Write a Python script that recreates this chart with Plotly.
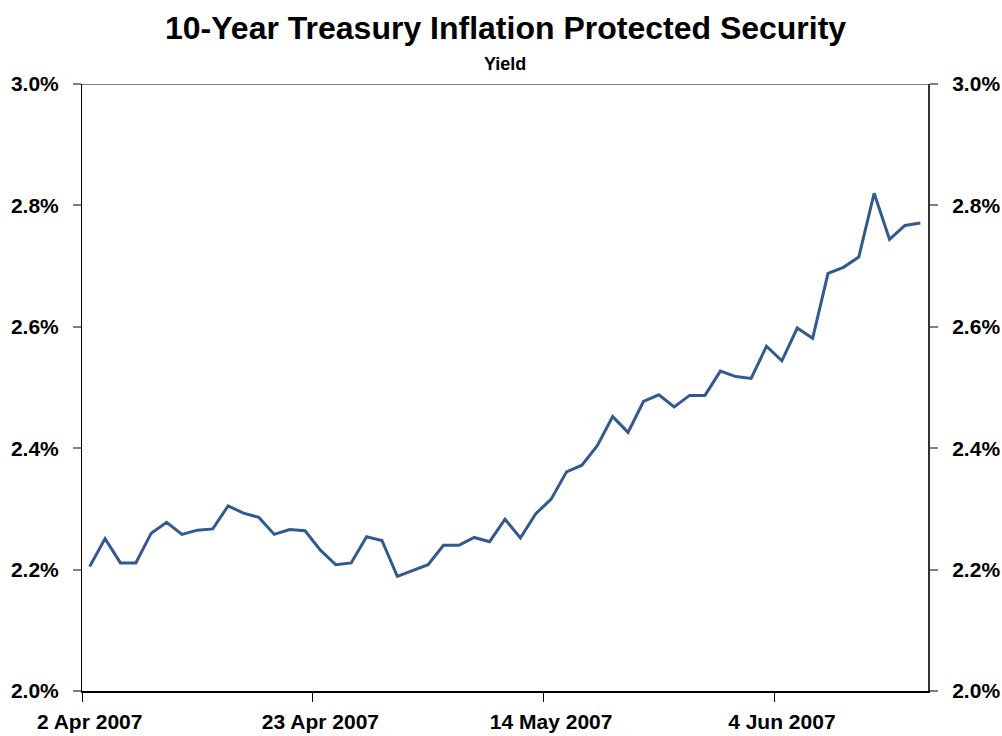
import pandas as pd
import plotly.graph_objects as go

# Trading days (weekdays) from 2 Apr 2007 to 15 Jun 2007
dates = pd.bdate_range("2007-04-02", periods=55)
date_labels = [d.strftime("%Y-%m-%d") for d in dates]

# 10-Year TIPS yield (%)
yields = [
    2.205, 2.251, 2.211, 2.211, 2.260, 2.278, 2.258, 2.265, 2.267, 2.305,
    2.293, 2.286, 2.258, 2.266, 2.264, 2.232, 2.208, 2.211, 2.254, 2.248,
    2.189, 2.198, 2.208, 2.240, 2.240, 2.253, 2.246, 2.283, 2.252, 2.292,
    2.316, 2.361, 2.372, 2.404, 2.452, 2.426, 2.477, 2.488, 2.468, 2.487,
    2.487, 2.527, 2.518, 2.515, 2.568, 2.544, 2.598, 2.581, 2.688, 2.698,
    2.715, 2.820, 2.744, 2.767, 2.771,
]

tick_index = [0, 15, 30, 45]
tick_text = ["2 Apr 2007", "23 Apr 2007", "14 May 2007", "4 Jun 2007"]
y_ticks = [2.0, 2.2, 2.4, 2.6, 2.8, 3.0]

title_text = "10-Year Treasury Inflation Protected Security"
subtitle_text = "Yield"

FONT = "Liberation Sans, Arial, sans-serif"
n = len(yields)
xpos = list(range(n))
xrange_ = [-0.5, n - 0.5]

fig = go.Figure()
fig.add_trace(go.Scatter(
    x=xpos, y=yields, mode="lines",
    line=dict(color="#33598f", width=3),
    customdata=date_labels,
    hovertemplate="%{customdata}: %{y:.3f}%<extra></extra>",
    showlegend=False,
))
# invisible traces to activate the secondary axes
fig.add_trace(go.Scatter(x=xpos, y=yields, yaxis="y2", mode="lines",
                         line=dict(width=0), opacity=0, hoverinfo="skip",
                         showlegend=False))
fig.add_trace(go.Scatter(x=xpos, y=yields, xaxis="x2", mode="lines",
                         line=dict(width=0), opacity=0, hoverinfo="skip",
                         showlegend=False))

fig.update_layout(
    width=1002, height=736,
    margin=dict(l=82, r=74, t=84, b=45),
    paper_bgcolor="white", plot_bgcolor="white",
    font=dict(family=FONT, color="black"),
    xaxis=dict(
        range=xrange_, tickmode="array", tickvals=tick_index, ticktext=tick_text,
        ticks="", showgrid=False, zeroline=False, automargin=False,
        showline=True, linecolor="black", linewidth=2,
        tickfont=dict(size=21, family=FONT, weight="bold"),
        ticklabelstandoff=11,
    ),
    xaxis2=dict(
        range=xrange_, overlaying="x", side="bottom", anchor="y",
        tickmode="array", tickvals=[i - 0.5 for i in tick_index],
        showticklabels=False, ticks="outside", ticklen=10, tickwidth=1,
        tickcolor="black", showgrid=False, zeroline=False, showline=False,
        automargin=False,
    ),
    yaxis=dict(
        range=[2.0, 3.0], tickmode="array", tickvals=y_ticks,
        ticktext=[f"{v:.1f}%" for v in y_ticks],
        ticks="outside", ticklen=8, tickwidth=2, tickcolor="#808080",
        showgrid=False, zeroline=False, automargin=False,
        showline=True, linecolor="black", linewidth=1,
        tickfont=dict(size=21, family=FONT, weight="bold"),
        ticklabelstandoff=10,
    ),
    yaxis2=dict(
        range=[2.0, 3.0], overlaying="y", side="right", anchor="x",
        tickmode="array", tickvals=y_ticks,
        ticktext=[f"{v:.1f}%" for v in y_ticks],
        ticks="outside", ticklen=8, tickwidth=2, tickcolor="#808080",
        showgrid=False, zeroline=False, automargin=False,
        showline=True, linecolor="#333333", linewidth=2,
        tickfont=dict(size=21, family=FONT, weight="bold"),
        ticklabelstandoff=10,
    ),
    shapes=[dict(type="line", xref="paper", yref="y", x0=0, x1=1, y0=3.0, y1=3.0,
                 line=dict(color="#808080", width=2), layer="above")],
    annotations=[
        dict(text=title_text, xref="paper", yref="paper", x=0.5, y=1,
             yshift=56, showarrow=False, xanchor="center", yanchor="middle",
             font=dict(size=32, family=FONT, weight="bold", color="black")),
        dict(text=subtitle_text, xref="paper", yref="paper", x=0.5, y=1,
             yshift=20, showarrow=False, xanchor="center", yanchor="middle",
             font=dict(size=18, family=FONT, weight="bold", color="black")),
    ],
)

fig.write_html("out.html", config={"displayModeBar": False},
               post_script="document.body.style.margin='0';document.body.style.overflow='hidden';")
